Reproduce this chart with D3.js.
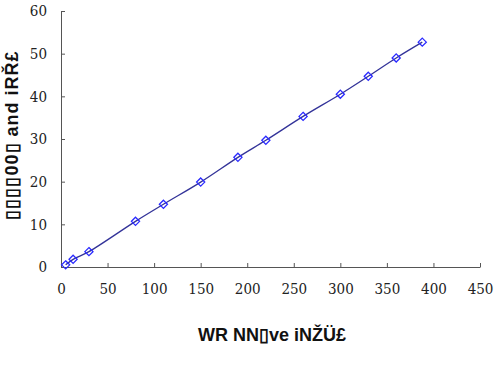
<!DOCTYPE html>
<html>
<head>
<meta charset="utf-8">
<script src="https://cdn.jsdelivr.net/npm/d3@7"></script>
<style>
	body { margin: 0; background: #fff; }
	svg { display: block; }
	.axis text { font-family: "DejaVu Serif Condensed", "DejaVu Serif", "Liberation Serif", serif; font-size: 15px; fill: #222; }
	.title { font-family: "Liberation Sans Narrow", "Liberation Sans", Arial, sans-serif; font-weight: bold; font-size: 18px; fill: #111; }
</style>
</head>
<body>
<div id="chart"></div>
<script>
const xValues = [5, 13, 30, 80, 110, 150, 190, 220, 260, 300, 330, 360, 388];
const yValues = [0.5, 1.8, 3.6, 10.7, 14.7, 19.9, 25.7, 29.7, 35.3, 40.5, 44.7, 49, 52.7];
const xTicks = [0, 50, 100, 150, 200, 250, 300, 350, 400, 450];
const yTicks = [0, 10, 20, 30, 40, 50, 60];
const xLabel = "WR  NN\u25AFve iNŽÜ£";
const yLabel = "\u25AF\u25AF\u25AF\u25AF00\u25AF and iRŘ£";

const width = 494;
const height = 365;
const margin = { top: 11, right: 14, bottom: 98, left: 61 };

const svg = d3.select("#chart")
	.append("svg")
	.attr("width", width)
	.attr("height", height);

const x = d3.scaleLinear()
	.domain([0, 450])
	.range([margin.left, width - margin.right]);

const y = d3.scaleLinear()
	.domain([0, 60])
	.range([height - margin.bottom, margin.top]);

const data = xValues.map((v, i) => ({ x: v, y: yValues[i] }));

// axes, ticks pointing inward
const xAxis = svg.append("g")
	.attr("class", "axis")
	.attr("transform", `translate(0, ${y(0)})`)
	.call(d3.axisBottom(x).tickValues(xTicks).tickSizeInner(-4).tickSizeOuter(0).tickPadding(16));

const yAxis = svg.append("g")
	.attr("class", "axis")
	.attr("transform", `translate(${x(0)}, 0)`)
	.call(d3.axisLeft(y).tickValues(yTicks).tickSizeInner(-4).tickSizeOuter(0).tickPadding(14));

[xAxis, yAxis].forEach(g => {
	g.attr("font-family", null).attr("font-size", null);
	g.select(".domain").attr("stroke", "#555");
	g.selectAll(".tick line").attr("stroke", "#555");
	g.selectAll(".tick text").attr("fill", null);
});

// line
const line = d3.line()
	.x(d => x(d.x))
	.y(d => y(d.y))
	.curve(d3.curveCatmullRom);

svg.append("path")
	.datum(data)
	.attr("fill", "none")
	.attr("stroke", "#333399")
	.attr("stroke-width", 1.3)
	.attr("d", line);

// diamond markers
const diamond = d3.symbol().type(d3.symbolDiamond2).size(42);
svg.selectAll(".pt")
	.data(data)
	.enter()
	.append("path")
	.attr("class", "pt")
	.attr("transform", d => `translate(${x(d.x)}, ${y(d.y)})`)
	.attr("d", diamond)
	.attr("fill", "none")
	.attr("stroke", "#2a2aff")
	.attr("stroke-width", 1.3);

// axis titles
svg.append("text")
	.attr("class", "title")
	.attr("x", 272)
	.attr("y", 341)
	.attr("text-anchor", "middle")
	.text(xLabel);

svg.append("text")
	.attr("class", "title")
	.attr("transform", "translate(18, 135) rotate(-90)")
	.attr("text-anchor", "middle")
	.style("letter-spacing", "1px")
	.text(yLabel);
</script>
</body>
</html>
